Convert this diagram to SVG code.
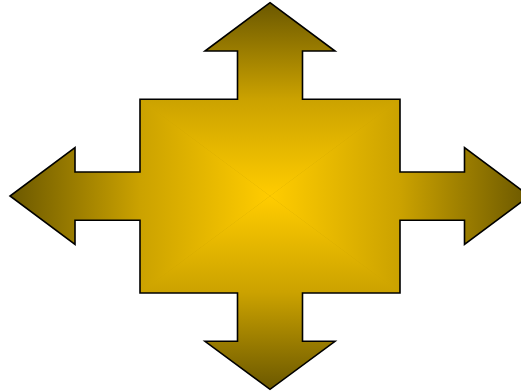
<svg xmlns="http://www.w3.org/2000/svg" width="521" height="392" viewBox="0 0 521 392">
  <defs>
    <linearGradient id="gTop" gradientUnits="userSpaceOnUse" x1="0" y1="196" x2="0" y2="2.7">
      <stop offset="0" stop-color="#FFCC00"/>
      <stop offset="0.5" stop-color="#CBA200"/>
      <stop offset="1" stop-color="#6B5800"/>
    </linearGradient>
    <linearGradient id="gBot" gradientUnits="userSpaceOnUse" x1="0" y1="196" x2="0" y2="389.3">
      <stop offset="0" stop-color="#FFCC00"/>
      <stop offset="0.5" stop-color="#CBA200"/>
      <stop offset="1" stop-color="#6B5800"/>
    </linearGradient>
    <linearGradient id="gLeft" gradientUnits="userSpaceOnUse" x1="270" y1="0" x2="10" y2="0">
      <stop offset="0" stop-color="#FFCC00"/>
      <stop offset="0.5" stop-color="#CBA200"/>
      <stop offset="1" stop-color="#6B5800"/>
    </linearGradient>
    <linearGradient id="gRight" gradientUnits="userSpaceOnUse" x1="270" y1="0" x2="530" y2="0">
      <stop offset="0" stop-color="#FFCC00"/>
      <stop offset="0.5" stop-color="#CBA200"/>
      <stop offset="1" stop-color="#6B5800"/>
    </linearGradient>
    <path id="shape" d="M270,2.7 L335,51 L302.5,51 L302.5,99.3 L400,99.3 L400,172 L464.5,172 L464.5,147.7 L529.5,196 L464.5,244.3 L464.5,220.3 L400,220.3 L400,293 L302.5,293 L302.5,341.3 L335,341.3 L270,389.3 L205,341.3 L237.5,341.3 L237.5,293 L140,293 L140,220.3 L75,220.3 L75,244.3 L10,196 L75,147.7 L75,172 L140,172 L140,99.3 L237.5,99.3 L237.5,51 L205,51 Z"/>
    <clipPath id="clip">
      <use href="#shape"/>
    </clipPath>
  </defs>
  <g id="quad-arrow">
    <g clip-path="url(#clip)">
      <rect x="0" y="0" width="540" height="392" fill="#CBA200"/>
      <polygon points="270,196 10,2.7 530,2.7" fill="url(#gTop)"/>
      <polygon points="270,196 10,389.3 530,389.3" fill="url(#gBot)"/>
      <polygon points="270,196 10,2.7 10,389.3" fill="url(#gLeft)"/>
      <polygon points="270,196 530,2.7 530,389.3" fill="url(#gRight)"/>
    </g>
    <use href="#shape" fill="none" stroke="#000" stroke-width="1.6" stroke-linejoin="miter"/>
  </g>
</svg>
